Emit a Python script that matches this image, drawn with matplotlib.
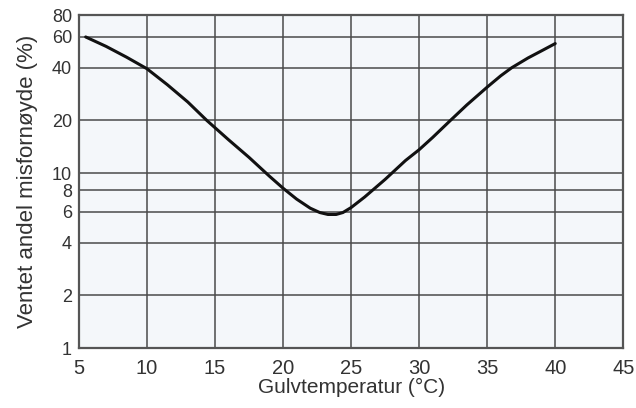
import numpy as np
import matplotlib
matplotlib.use("Agg")
import matplotlib.pyplot as plt

# floor temperature (degC) vs expected share dissatisfied (%)
temp = [5.5, 7, 8.5, 10, 11.5, 13, 14.4, 16, 17.5, 19, 20, 21, 22, 22.7, 23.3, 23.9, 24.4, 25, 26, 27.5, 29, 30, 31, 32.3, 33.5, 35, 36, 36.8, 38, 39, 40]
dissat = [60, 53, 46, 39.5, 32, 25.5, 20, 15.5, 12.3, 9.6, 8.2, 7.1, 6.3, 5.95, 5.8, 5.8, 5.95, 6.35, 7.3, 9.2, 11.8, 13.6, 16.0, 20, 24.5, 31, 36, 40, 45.5, 50, 55]

xticks = [5, 10, 15, 20, 25, 30, 35, 40, 45]
yticks = [1, 2, 4, 6, 8, 10, 20, 40, 60, 80]

plt.rcParams['font.family'] = ['Liberation Sans', 'DejaVu Sans']

fig = plt.figure(figsize=(6.36, 4.08), dpi=100)
ax = fig.add_axes([0.124, 0.147, 0.856, 0.816])
ax.set_facecolor('#f4f7fa')

ax.set_yscale('log')
ax.set_xlim(5, 45)
ax.set_ylim(1, 80)
ax.set_xticks(xticks)
ax.set_yticks(yticks)
ax.set_xticklabels([str(t) for t in xticks])
ax.set_yticklabels([str(t) for t in yticks])
ax.minorticks_off()
ax.tick_params(length=0, labelsize=14.5, colors='#333333')
ax.tick_params(axis='x', pad=8)
ax.tick_params(axis='y', pad=5, labelsize=13)

ax.grid(True, color='#4a4a4a', linewidth=1.1)
ax.set_axisbelow(True)
for s in ax.spines.values():
    s.set_color('#555555')
    s.set_linewidth(1.6)

ax.plot(temp, dissat, color='#111111', linewidth=2.2,
        solid_capstyle='round', solid_joinstyle='round')

ax.set_xlabel('Gulvtemperatur (°C)', fontsize=15, color='#333333', labelpad=0)
ax.set_ylabel('Ventet andel misfornøyde (%)', fontsize=16, color='#333333', labelpad=10)

fig.savefig('out.png', dpi=100)
